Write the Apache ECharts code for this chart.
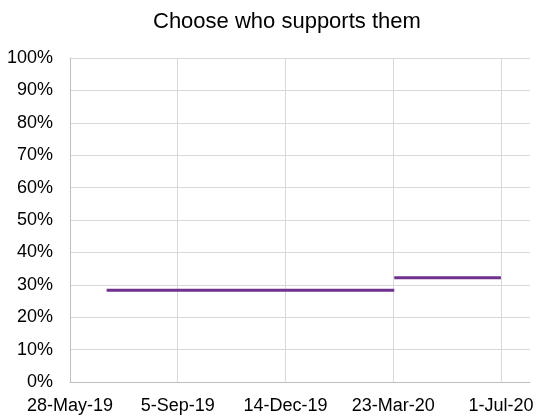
<!DOCTYPE html>
<html>
<head>
<meta charset="utf-8">
<script src="https://cdn.jsdelivr.net/npm/echarts@6/dist/echarts.min.js"></script>
<style>
  html, body { margin: 0; padding: 0; background: #fff; }
  #chart { width: 537px; height: 419px; }
</style>
</head>
<body>
<div id="chart"></div>
<script>
// Survey periods and the share who choose who supports them (%)
var periodStart = ['2019-07-01', '2020-03-24'];
var periodEnd = ['2020-03-24', '2020-07-01'];
var shareValues = [28.3, 32.2];

// Date axis ticks, every 100 days from the first one
var axisStartDate = '2019-05-28';
var tickDays = [0, 100, 200, 300, 400];
var axisEndDays = 427;
var yTicks = [0, 10, 20, 30, 40, 50, 60, 70, 80, 90, 100];

var MONTHS = ['Jan', 'Feb', 'Mar', 'Apr', 'May', 'Jun', 'Jul', 'Aug', 'Sep', 'Oct', 'Nov', 'Dec'];
var DAY_MS = 86400000;
var base = Date.parse(axisStartDate + 'T00:00:00Z');

function toDays(s) {
  return Math.round((Date.parse(s + 'T00:00:00Z') - base) / DAY_MS);
}
function dayLabel(d) {
  var dt = new Date(base + d * DAY_MS);
  var yy = String(dt.getUTCFullYear() % 100).padStart(2, '0');
  return dt.getUTCDate() + '-' + MONTHS[dt.getUTCMonth()] + '-' + yy;
}

var series = periodStart.map(function (s, i) {
  return {
    type: 'line',
    data: [[toDays(s), shareValues[i]], [toDays(periodEnd[i]), shareValues[i]]],
    showSymbol: false,
    symbol: 'none',
    lineStyle: { color: '#70308f', width: 3 },
    itemStyle: { color: '#70308f' },
    z: 3
  };
});

var chart = echarts.init(document.getElementById('chart'));
chart.setOption({
  animation: false,
  title: {
    text: 'Choose who supports them',
    left: 148,
    top: 6,
    textStyle: { fontFamily: 'Liberation Sans', fontSize: 22, fontWeight: 'normal', color: '#000' }
  },
  grid: { left: 70, right: 7, top: 58, bottom: 37, containLabel: false },
  xAxis: {
    type: 'value',
    min: 0,
    max: axisEndDays,
    axisLine: { show: true, lineStyle: { color: '#bfbfbf', width: 1 } },
    axisTick: { show: false, customValues: tickDays },
    splitLine: { show: true, lineStyle: { color: '#d9d9d9', width: 1 } },
    axisLabel: {
      customValues: tickDays,
      formatter: function (v) { return dayLabel(v); },
      fontFamily: 'Liberation Sans',
      fontSize: 18,
      color: '#000',
      margin: 15
    }
  },
  yAxis: {
    type: 'value',
    min: 0,
    max: 100,
    interval: 10,
    axisLine: { show: true, lineStyle: { color: '#bfbfbf', width: 1 } },
    axisTick: { show: false },
    splitLine: { show: true, lineStyle: { color: '#d9d9d9', width: 1 } },
    axisLabel: {
      formatter: '{value}%',
      fontFamily: 'Liberation Sans',
      fontSize: 18,
      color: '#000',
      margin: 17
    }
  },
  series: series
});
</script>
</body>
</html>
